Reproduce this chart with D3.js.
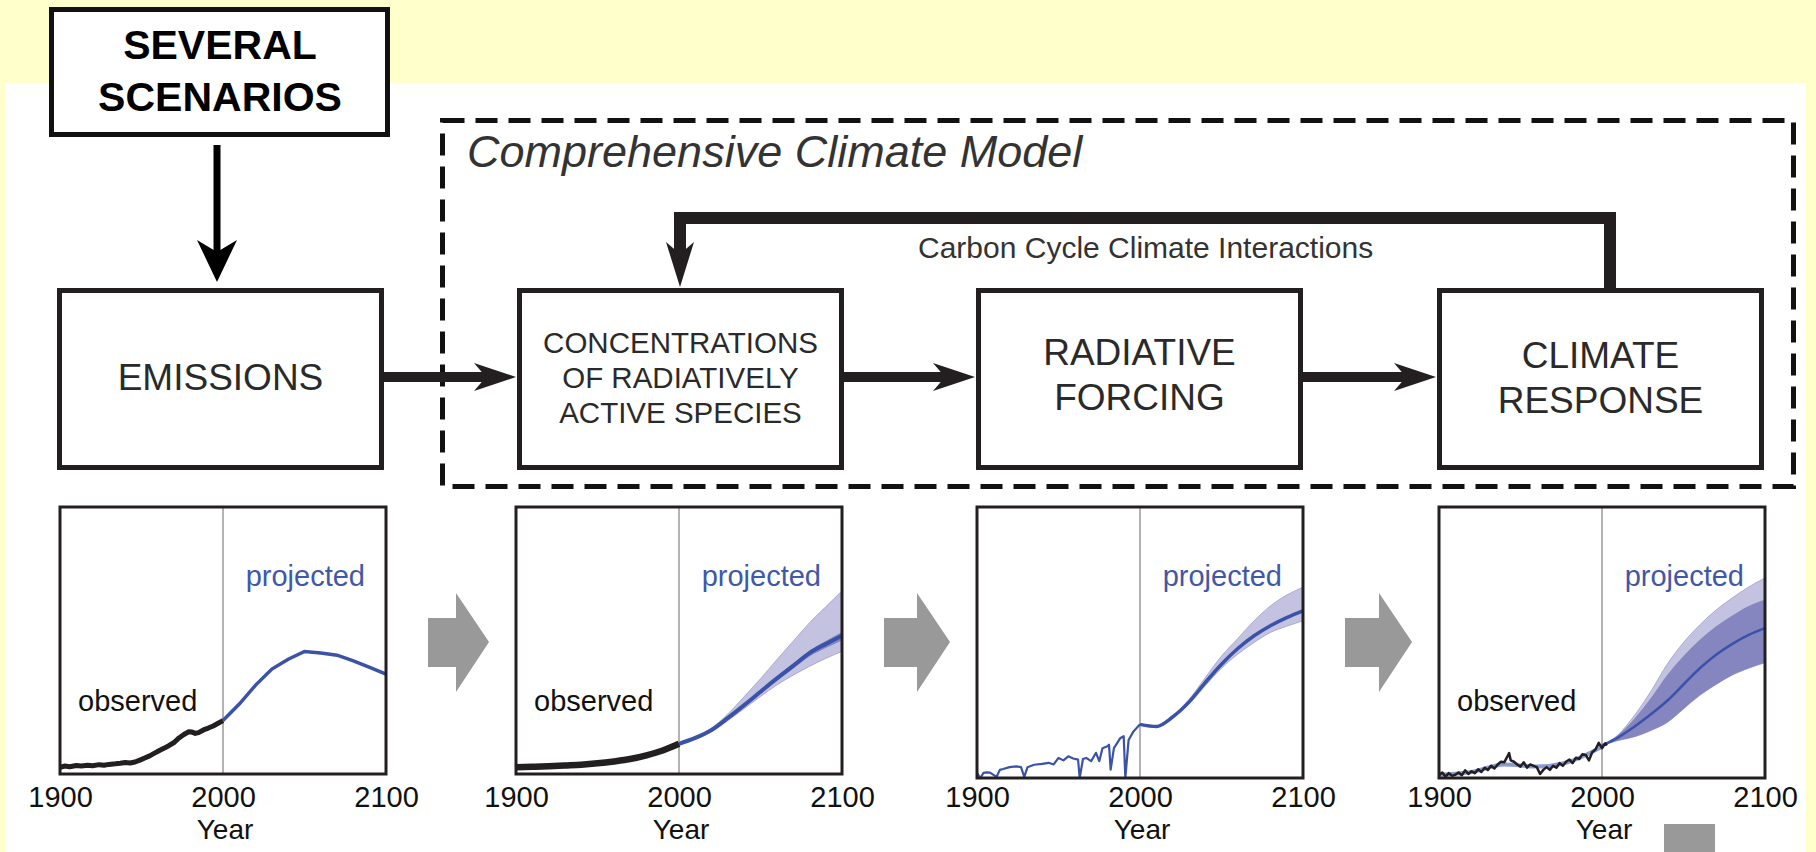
<!DOCTYPE html>
<html>
<head>
<meta charset="utf-8">
<script src="https://cdn.jsdelivr.net/npm/d3@7"></script>
<style>
  html, body { margin: 0; padding: 0; background: #ffffcc; }
  svg { display: block; font-family: "Liberation Sans", Arial, Helvetica, sans-serif; }
</style>
</head>
<body>
<svg id="viz" width="1816" height="852"></svg>
<script>
// ---- data (values are fractions of each panel's height) ----
var tickYears = [1900, 2000, 2100];
var boxLabels = [
  ['EMISSIONS'],
  ['CONCENTRATIONS', 'OF RADIATIVELY', 'ACTIVE SPECIES'],
  ['RADIATIVE', 'FORCING'],
  ['CLIMATE', 'RESPONSE']
];
var projYears = [2000, 2010, 2020, 2030, 2040, 2050, 2060, 2070, 2080, 2090, 2100];

// emissions
var emisObsYears = [1900,1903,1906,1910,1913,1917,1920,1924,1927,1930,1934,1937,1940,1943,1946,1949,1952,1955,1958,1961,1964,1967,1970,1973,1976,1979,1981,1983,1985,1988,1991,1994,1997,2000];
var emisObs = [.025,.03,.027,.032,.03,.033,.031,.035,.033,.036,.038,.04,.043,.041,.045,.052,.06,.068,.078,.088,.097,.107,.118,.135,.148,.158,.157,.152,.155,.165,.172,.18,.19,.2];
var emisProj = [.2,.262,.333,.393,.43,.459,.453,.445,.424,.399,.374];

// concentrations
var concObsYears = [1900,1910,1920,1930,1940,1950,1960,1970,1980,1990,2000];
var concObs = [.025,.027,.029,.032,.035,.04,.047,.056,.07,.088,.113];
var concProj = [.113,.135,.165,.21,.258,.308,.358,.405,.453,.487,.518];
var concHi = [.113,.14,.172,.225,.29,.357,.428,.497,.566,.626,.686];
var concLo = [.113,.133,.16,.2,.245,.29,.333,.37,.403,.433,.459];
var concMidHi = [.113,.137,.168,.214,.263,.314,.365,.414,.462,.498,.532];
var concMidLo = [.113,.134,.162,.206,.252,.3,.348,.394,.44,.472,.5];

// radiative forcing
var rfObsYears = [1900,1902,1904,1906,1908,1912,1914,1916,1920,1924,1927,1929,1931,1935,1940,1944,1947,1950,1953,1956,1959,1962,1963,1965,1967,1970,1973,1975,1977,1980,1981,1982,1984,1988,1990,1991,1993,1996,2000];
var rfObs = [.019,0,.019,.021,.02,.004,.03,.033,.04,.043,.04,.004,.04,.049,.052,.056,.05,.074,.065,.08,.072,.068,0,.07,.074,.062,.093,.062,.11,.117,.123,.031,.11,.148,.154,0,.14,.172,.198];
var rfProj = [.198,.19,.225,.28,.352,.42,.478,.525,.562,.592,.617];
var rfHi = [.198,.192,.23,.29,.37,.45,.515,.58,.635,.675,.704];
var rfLo = [.198,.188,.222,.272,.34,.405,.457,.5,.537,.56,.58];

// climate response
var tempObsYears = [1900,1902,1904,1906,1908,1910,1912,1914,1916,1918,1920,1922,1924,1926,1928,1930,1932,1934,1936,1938,1940,1942,1943,1944,1946,1948,1950,1952,1954,1956,1958,1960,1962,1964,1966,1968,1970,1972,1974,1976,1978,1980,1982,1984,1986,1988,1990,1992,1994,1996,1998,2000,2002,2003];
var tempObs = [.01,.02,.005,.018,.008,.012,.02,.01,.028,.015,.025,.018,.032,.022,.038,.03,.045,.035,.05,.06,.058,.08,.092,.065,.06,.05,.042,.058,.038,.05,.045,.04,.015,.03,.04,.03,.045,.038,.055,.045,.06,.068,.055,.075,.07,.088,.085,.065,.095,.105,.13,.11,.128,.12];
var tempModelYears = [1900,1920,1940,1960,1980,2000];
var tempModel = [.012,.022,.05,.042,.06,.115];
var tempProj = [.12,.15,.19,.235,.285,.345,.405,.455,.495,.528,.553];
var tempHi = [.12,.16,.232,.32,.42,.5,.565,.62,.665,.705,.738];
var tempMidHi = [.12,.16,.22,.295,.38,.45,.51,.56,.6,.635,.658];
var tempLo = [.12,.138,.152,.175,.205,.255,.305,.345,.38,.405,.425];

// ---- layout ----
var boxX = [57, 517, 976, 1437], boxW = 327, boxTop = 288, boxH = 182, arrowY = 377;
var panelX = [60, 516, 977, 1439], panelW = 326, panelTop = 507,
    panelBottom = [774, 774, 778, 778];
var ink = '#231f20', blue = '#3a52a8', bandLight = '#c3c3e1', bandMid = '#8585bf';

var svg = d3.select('#viz');

svg.append('rect').attr('width', 1816).attr('height', 852).attr('fill', '#ffffcc');
svg.append('rect').attr('x', 5).attr('y', 83).attr('width', 1801).attr('height', 769).attr('fill', '#fff');

// several scenarios box
svg.append('rect')
  .attr('x', 51.5).attr('y', 9.5).attr('width', 336).attr('height', 125)
  .attr('fill', '#fff').attr('stroke', '#111').attr('stroke-width', 5);
svg.append('text').attr('x', 220).attr('y', 59).attr('text-anchor', 'middle')
  .attr('font-size', 41).attr('font-weight', 'bold').attr('fill', '#000').text('SEVERAL');
svg.append('text').attr('x', 220).attr('y', 111).attr('text-anchor', 'middle')
  .attr('font-size', 41).attr('font-weight', 'bold').attr('fill', '#000').text('SCENARIOS');

// down arrow
svg.append('line').attr('x1', 217).attr('x2', 217).attr('y1', 145).attr('y2', 256)
  .attr('stroke', '#000').attr('stroke-width', 7);
svg.append('path').attr('d', 'M217,282 L197,240 L217,252 L237,240 Z').attr('fill', '#000');

// dashed model frame
svg.append('rect')
  .attr('x', 442.5).attr('y', 120.5).attr('width', 1351).attr('height', 366)
  .attr('fill', 'none').attr('stroke', '#111').attr('stroke-width', 5)
  .attr('stroke-dasharray', '22 11');
svg.append('text').attr('x', 467).attr('y', 167)
  .attr('font-size', 45).attr('font-style', 'italic').attr('fill', '#333')
  .text('Comprehensive Climate Model');

// feedback loop
svg.append('path').attr('d', 'M1610,290 V218 H680 V258')
  .attr('fill', 'none').attr('stroke', ink).attr('stroke-width', 12);
svg.append('path').attr('d', 'M680,287 L666,242 L680,254 L694,242 Z').attr('fill', ink);
svg.append('text').attr('x', 918).attr('y', 258)
  .attr('font-size', 30).attr('fill', '#333').text('Carbon Cycle Climate Interactions');

// process boxes
var labelSize = [37, 29.5, 37, 37];
var labelY = [[377], [342, 377, 412], [352, 397], [355, 400]];
boxLabels.forEach(function(lines, i) {
  svg.append('rect')
    .attr('x', boxX[i] + 2.5).attr('y', boxTop + 2.5)
    .attr('width', boxW - 5).attr('height', boxH - 5)
    .attr('fill', '#fff').attr('stroke', ink).attr('stroke-width', 5);
  lines.forEach(function(t, j) {
    svg.append('text')
      .attr('x', boxX[i] + boxW / 2).attr('y', labelY[i][j])
      .attr('text-anchor', 'middle').attr('dominant-baseline', 'central')
      .attr('font-size', labelSize[i]).attr('fill', '#2a2a2a').text(t);
  });
  if (i < boxLabels.length - 1) {
    var x0 = boxX[i] + boxW, tip = boxX[i + 1] - 1;
    svg.append('line').attr('x1', x0).attr('x2', tip - 28)
      .attr('y1', arrowY).attr('y2', arrowY)
      .attr('stroke', ink).attr('stroke-width', 10);
    svg.append('path')
      .attr('d', 'M' + tip + ',' + arrowY + ' L' + (tip - 42) + ',' + (arrowY - 14) +
        ' L' + (tip - 30) + ',' + arrowY + ' L' + (tip - 42) + ',' + (arrowY + 14) + ' Z')
      .attr('fill', ink);
  }
});

// ---- small panels ----
function zip(xs, ys) { return xs.map(function(x, k) { return [x, ys[k]]; }); }
function zip3(xs, lo, hi) { return xs.map(function(x, k) { return [x, lo[k], hi[k]]; }); }

var panels = [
  { obs: zip(emisObsYears, emisObs), obsColor: ink, obsWidth: 5, proj: zip(projYears, emisProj), observed: true },
  { obs: zip(concObsYears, concObs), obsColor: ink, obsWidth: 6.5, obsCurve: true, proj: zip(projYears, concProj),
    bands: [[zip3(projYears, concLo, concHi), bandLight], [zip3(projYears, concMidLo, concMidHi), bandMid]], projWidth: 4, observed: true },
  { obs: zip(rfObsYears, rfObs), obsColor: blue, obsWidth: 2.2, proj: zip(projYears, rfProj),
    bands: [[zip3(projYears, rfLo, rfHi), bandLight]], projWidth: 3.5, observed: false },
  { obs: zip(tempObsYears, tempObs), obsColor: ink, obsWidth: 2.5, proj: zip(projYears, tempProj),
    model: zip(tempModelYears, tempModel),
    bands: [[zip3(projYears, tempLo, tempHi), bandLight], [zip3(projYears, tempLo, tempMidHi), bandMid]], projWidth: 2.5, observed: true }
];

panels.forEach(function(p, i) {
  var bottom = panelBottom[i];
  var x = d3.scaleLinear().domain([1900, 2100]).range([panelX[i], panelX[i] + panelW]);
  var y = d3.scaleLinear().domain([0, 1]).range([bottom, panelTop]);
  var g = svg.append('g');

  g.append('rect').attr('x', x(1900)).attr('y', panelTop)
    .attr('width', panelW).attr('height', bottom - panelTop).attr('fill', '#fff');
  g.append('line').attr('x1', x(2000)).attr('x2', x(2000))
    .attr('y1', panelTop).attr('y2', bottom)
    .attr('stroke', '#9a9a9a').attr('stroke-width', 1.5);

  (p.bands || []).forEach(function(b) {
    g.append('path').datum(b[0])
      .attr('d', d3.area().curve(d3.curveMonotoneX)
        .x(function(d) { return x(d[0]); })
        .y0(function(d) { return y(d[1]); })
        .y1(function(d) { return y(d[2]); }))
      .attr('fill', b[1]).attr('stroke', b[1] === bandLight ? '#9d9dcf' : 'none')
      .attr('stroke-width', 0.8);
  });

  if (p.model) {
    g.append('path').datum(p.model)
      .attr('d', d3.line().curve(d3.curveMonotoneX)
        .x(function(d) { return x(d[0]); }).y(function(d) { return y(d[1]); }))
      .attr('fill', 'none').attr('stroke', '#5a6fc0').attr('stroke-width', 4).attr('opacity', 0.7);
  }

  g.append('path').datum(p.proj)
    .attr('d', d3.line().curve(i === 0 ? d3.curveLinear : d3.curveMonotoneX)
      .x(function(d) { return x(d[0]); }).y(function(d) { return y(d[1]); }))
    .attr('fill', 'none').attr('stroke', blue).attr('stroke-width', p.projWidth || 3.5);

  g.append('path').datum(p.obs)
    .attr('d', d3.line().curve(p.obsCurve ? d3.curveMonotoneX : d3.curveLinear)
      .x(function(d) { return x(d[0]); }).y(function(d) { return y(d[1]); }))
    .attr('fill', 'none').attr('stroke', p.obsColor).attr('stroke-width', p.obsWidth)
    .attr('stroke-linejoin', 'round');

  g.append('rect').attr('x', x(1900)).attr('y', panelTop)
    .attr('width', panelW).attr('height', bottom - panelTop)
    .attr('fill', 'none').attr('stroke', ink).attr('stroke-width', 3);

  // tick labels sit on one baseline for all panels
  var axis = g.append('g').attr('transform', 'translate(0,' + bottom + ')')
    .call(d3.axisBottom(x).tickValues(tickYears).tickFormat(d3.format('d'))
      .tickSize(0).tickPadding(786 - bottom));
  axis.select('.domain').remove();
  axis.selectAll('text').attr('font-size', 29).attr('fill', '#111')
    .attr('font-family', '"Liberation Sans", Arial, sans-serif');

  g.append('text').attr('x', x(2000) + 2).attr('y', 839)
    .attr('text-anchor', 'middle').attr('font-size', 28).attr('fill', '#111').text('Year');

  g.append('text').attr('x', x(2100) - 21).attr('y', 586)
    .attr('text-anchor', 'end').attr('font-size', 29).attr('fill', '#3f58a8').text('projected');
  if (p.observed) {
    g.append('text').attr('x', x(1900) + 18).attr('y', 711)
      .attr('font-size', 29).attr('fill', '#111').text('observed');
  }

  // grey block arrow to the next panel
  if (i < panels.length - 1) {
    var s = x(2100) + 42, e = panelX[i + 1] - 27;
    g.append('path')
      .attr('d', 'M' + s + ',618 H' + (e - 33) + ' V593 L' + e + ',642 L' + (e - 33) + ',692 V667 H' + s + ' Z')
      .attr('fill', '#999');
  }
});

svg.append('rect').attr('x', 1664).attr('y', 824).attr('width', 51).attr('height', 28).attr('fill', '#999');
</script>
</body>
</html>
